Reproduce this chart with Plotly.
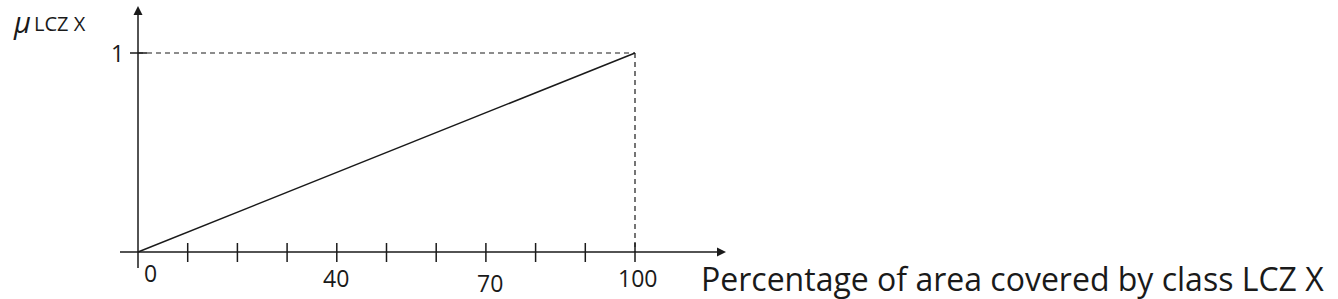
import plotly.graph_objects as go

# ---- data ----
line_x = [0, 100]
line_mu = [0, 1]
x_ticks = [0, 10, 20, 30, 40, 50, 60, 70, 80, 90, 100]
x_tick_labels = ["0", "40", "70", "100"]
x_tick_label_vals = [0, 40, 70, 100]
y_tick_labels = ["1"]
y_tick_vals = [1]
x_title = "Percentage of area covered by class LCZ X"
y_title_symbol = "μ"
y_title_sub = "LCZ X"

W, H = 1338, 299
X0PX, XSCALE = 138, 4.97     # pixel of x=0, px per unit
Y0PX, YSCALE = 252, 199      # pixel of y=0, px per unit

def dx(px):
    return (px - X0PX) / XSCALE

def dy(py):
    return (Y0PX - py) / YSCALE

INK = "#1a1a1a"
FONT = "Open Sans, Lato, sans-serif"

fig = go.Figure()

# axes lines
fig.add_trace(go.Scatter(x=[dx(120), dx(724)], y=[0, 0], mode="lines",
                         line=dict(color=INK, width=1.5), hoverinfo="skip"))
fig.add_trace(go.Scatter(x=[0, 0], y=[dy(268), dy(8)], mode="lines",
                         line=dict(color=INK, width=1.5), hoverinfo="skip"))
# arrow heads
fig.add_trace(go.Scatter(x=[dx(726)], y=[0], mode="markers",
                         marker=dict(symbol="arrow-right", size=9, color=INK, line=dict(width=0)),
                         hoverinfo="skip"))
fig.add_trace(go.Scatter(x=[0], y=[dy(6)], mode="markers",
                         marker=dict(symbol="arrow-up", size=9, color=INK, line=dict(width=0)),
                         hoverinfo="skip"))

# dashed guides
fig.add_trace(go.Scatter(x=[line_x[0], line_x[-1]], y=[line_mu[-1], line_mu[-1]], mode="lines",
                         line=dict(color=INK, width=1.2, dash="5px,4px"), hoverinfo="skip"))
fig.add_trace(go.Scatter(x=[line_x[-1], line_x[-1]], y=[line_mu[-1], line_mu[0]], mode="lines",
                         line=dict(color=INK, width=1.2, dash="5px,4px"), hoverinfo="skip"))
# main membership line
fig.add_trace(go.Scatter(x=line_x, y=line_mu, mode="lines",
                         line=dict(color=INK, width=1.5), hoverinfo="skip"))

shapes = []
# x tick marks
for t in x_ticks[1:]:
    shapes.append(dict(type="line", xref="x", yref="y", x0=t, x1=t, y0=dy(243), y1=dy(262),
                       line=dict(color=INK, width=1.5)))
# y tick mark
for v in y_tick_vals:
    shapes.append(dict(type="line", xref="x", yref="y", x0=dx(130), x1=dx(147), y0=v, y1=v,
                       line=dict(color=INK, width=1.5)))
fig.update_layout(shapes=shapes)

annotations = []
# x tick labels (positions offset as in the reference)
lab_pos = {0: (150, 273), 40: (336, 278), 70: (490, 283), 100: (637, 278)}
for lab, v in zip(x_tick_labels, x_tick_label_vals):
    px, py = lab_pos[v]
    annotations.append(dict(x=dx(px), y=dy(py), xref="x", yref="y", text=lab, showarrow=False,
                            font=dict(family=FONT, size=23, color=INK), xanchor="center", yanchor="middle"))
for lab, v in zip(y_tick_labels, y_tick_vals):
    annotations.append(dict(x=dx(117), y=v, xref="x", yref="y", text=lab, showarrow=False,
                            font=dict(family=FONT, size=23, color=INK), xanchor="center", yanchor="middle"))
# titles
annotations.append(dict(x=dx(699), y=dy(278), xref="x", yref="y", text=x_title, showarrow=False,
                        font=dict(family=FONT, size=32, color=INK), xanchor="left", yanchor="middle"))
annotations.append(dict(x=dx(11), y=dy(21), xref="x", yref="y", text="<i>" + y_title_symbol + "</i>",
                        showarrow=False, font=dict(family=FONT, size=29, color=INK),
                        xanchor="left", yanchor="middle"))
annotations.append(dict(x=dx(32), y=dy(23), xref="x", yref="y", text=y_title_sub, showarrow=False,
                        font=dict(family=FONT, size=20, color=INK), xanchor="left", yanchor="middle"))
fig.update_layout(annotations=annotations)

fig.update_layout(
    width=W, height=H, margin=dict(l=0, r=0, t=0, b=0),
    paper_bgcolor="white", plot_bgcolor="white", showlegend=False,
    xaxis=dict(range=[dx(0), dx(W)], visible=False, fixedrange=True),
    yaxis=dict(range=[dy(H), dy(0)], visible=False, fixedrange=True),
)

fig.write_html("out.html")
